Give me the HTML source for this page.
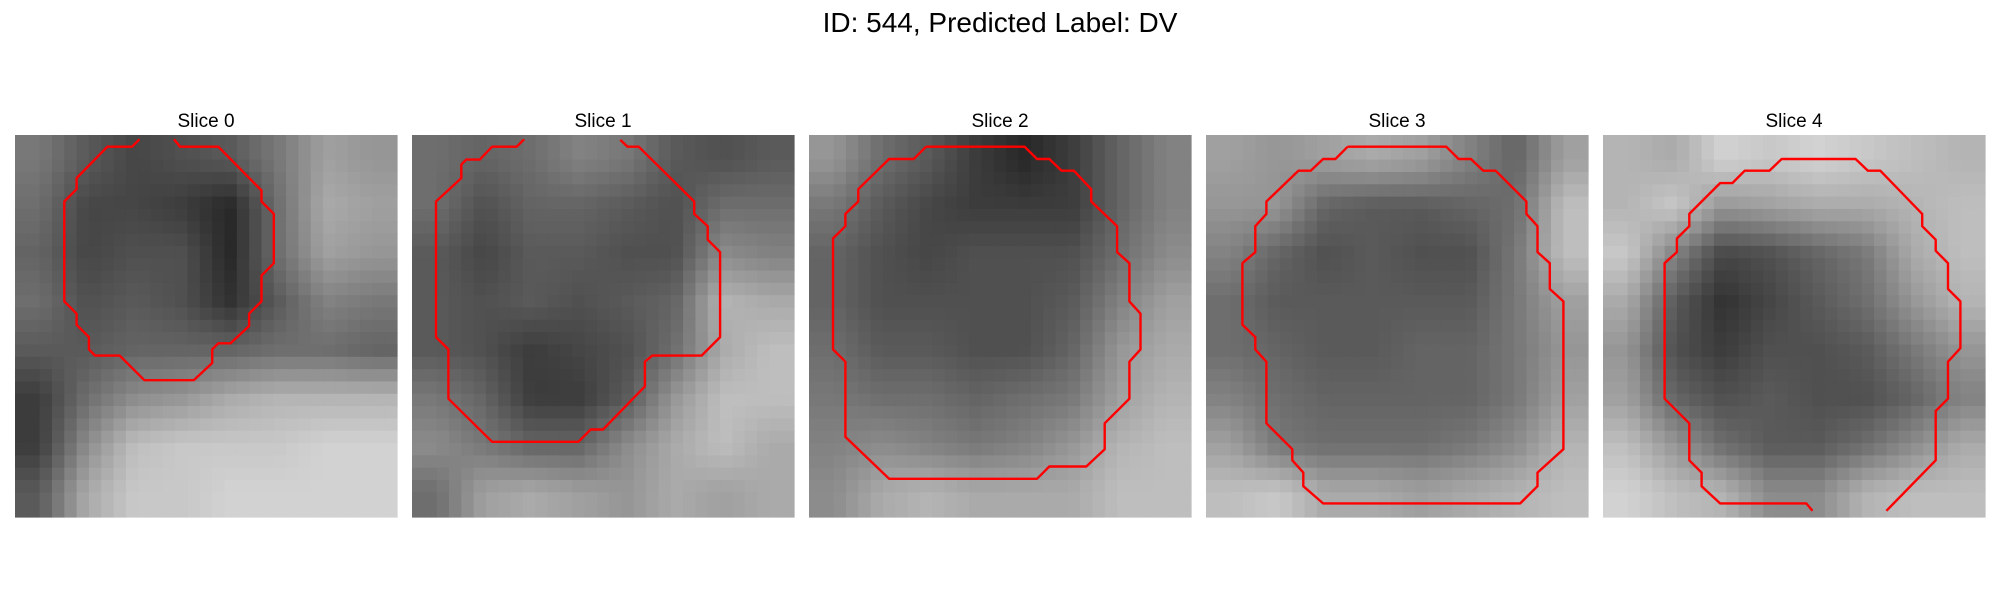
<!DOCTYPE html>
<html><head><meta charset="utf-8"><style>
html,body{margin:0;padding:0;background:#fff;width:2000px;height:600px;overflow:hidden}
svg{display:block}
text{font-family:"Liberation Sans","DejaVu Sans",sans-serif}
</style></head><body>
<svg id="fig" width="2000" height="600" viewBox="0 0 2000 600">
<text x="1000" y="32" font-size="28" text-anchor="middle" fill="#000">ID: 544, Predicted Label: DV</text>
</svg>
<script>
const sliceTitles = ["Slice 0","Slice 1","Slice 2","Slice 3","Slice 4"];
// coarse 8x8 brightness estimates (0-255) per slice
const bright0 = [[120,90,70,80,90,120,160,150],[110,70,70,60,40,110,170,160],[100,70,80,80,40,110,160,150],[110,80,90,80,50,90,130,120],[90,90,100,100,100,110,110,100],[60,110,140,150,170,180,180,180],[60,140,190,200,200,200,210,210],[90,170,200,200,210,210,210,210]];
const bright1 = [[110,100,110,130,120,90,80,90],[110,80,100,100,90,80,110,110],[90,70,90,90,80,80,140,130],[90,80,90,80,90,100,180,170],[90,80,60,70,80,110,170,190],[120,100,60,60,90,150,190,190],[140,120,100,100,140,170,190,170],[110,160,170,160,150,170,160,170]];
const bright2 = [[150,110,90,60,40,60,100,130],[120,90,70,60,60,60,100,130],[100,80,70,80,80,80,110,140],[100,80,80,80,80,90,130,160],[110,90,90,80,80,100,150,170],[120,110,110,100,110,120,160,180],[130,140,130,120,130,150,180,190],[140,170,180,170,170,170,190,190]];
const bright3 = [[160,150,160,170,160,130,100,160],[150,150,100,90,90,100,110,190],[130,100,80,90,80,80,120,190],[110,90,90,90,90,90,120,160],[110,100,90,90,100,100,120,150],[130,110,100,100,100,100,120,160],[160,120,110,110,110,120,140,180],[190,200,170,170,160,170,180,190]];
const bright4 = [[180,170,210,200,210,200,190,180],[180,200,150,160,170,170,180,190],[200,130,70,80,100,120,170,190],[170,90,50,70,90,110,150,180],[150,80,60,80,80,90,120,150],[160,100,80,90,80,80,100,130],[190,150,110,90,90,110,140,170],[210,190,180,140,140,180,190,190]];
// contour vertices in cell units (x,y), grid of 31 cells
const contour0 = [[10.1,0.35],[9.5,0.95],[7.5,0.95],[5,3.5],[5,4.4],[4,5.4],[4,13.5],[5,14.5],[5,15.4],[6,16.4],[6,17.4],[6.5,17.9],[8.5,17.9],[10.5,19.9],[14.5,19.9],[16,18.5],[16,17.4],[16.5,16.9],[17.5,16.9],[19,15.5],[19,14.5],[20,13.5],[20,11.4],[21,10.4],[21,6.4],[20,5.4],[20,4.5],[16.5,0.95],[13.4,0.95],[12.9,0.35]];
const contour1 = [[9.1,0.35],[8.5,0.95],[6.5,0.95],[5.5,2],[4.4,2],[4,2.4],[4,3.5],[1.95,5.4],[1.95,16.4],[2.95,17.4],[2.95,21.4],[6.5,24.9],[13.5,24.9],[14.5,23.9],[15.5,23.9],[18.9,20.4],[18.9,18.4],[19.5,17.9],[23.5,17.9],[25,16.4],[25,9.5],[24,8.5],[24,7.4],[22.9,6.4],[22.9,5.4],[18.4,0.95],[17.5,0.95],[16.9,0.4]];
const contour2 = [[9.5,0.95],[17.5,0.95],[18.5,1.95],[19.5,1.95],[20.5,2.9],[21.5,2.9],[22.9,4.4],[22.9,5.4],[25,7.4],[25,9.5],[26,10.4],[26,13.5],[26.9,14.5],[26.9,17.4],[26,18.4],[26,21.4],[24,23.4],[24,25.5],[22.5,26.9],[19.5,26.9],[18.5,27.9],[6.5,27.9],[2.95,24.5],[2.95,18.4],[1.95,17.4],[1.95,8.4],[2.95,7.4],[2.95,6.4],[4,5.4],[4,4.4],[6.5,1.95],[8.5,1.95],[9.5,0.95]];
const contour3 = [[11.5,0.95],[19.5,0.95],[20.5,1.95],[21.5,1.95],[22.5,2.9],[23.5,2.9],[26,5.4],[26,6.4],[26.9,7.4],[26.9,9.5],[27.9,10.4],[27.9,12.5],[29,13.5],[29,25.5],[26.9,27.4],[26.9,28.5],[25.5,29.9],[9.5,29.9],[7.9,28.5],[7.9,27.4],[7,26.4],[7,25.5],[4.9,23.4],[4.9,18.4],[4,17.4],[4,16.4],[2.95,15.4],[2.95,10.4],[4,9.5],[4,7.4],[4.9,6.4],[4.9,5.4],[7.5,2.9],[8.5,2.9],[9.5,1.95],[10.5,1.95],[11.5,0.95]];
const contour4 = [[17,30.5],[16.5,29.9],[9.5,29.9],[8,28.5],[8,27.4],[7,26.4],[7,23.4],[5,21.4],[5,10.4],[6,9.5],[6,8.4],[7,7.4],[7,6.4],[9.5,3.9],[10.5,3.9],[11.5,2.9],[13.5,2.9],[14.5,1.95],[20.5,1.95],[21.5,2.9],[22.5,2.9],[25.9,6.4],[25.9,7.4],[27,8.5],[27,9.4],[28,10.4],[28,12.5],[29,13.5],[29,17.3],[28,18.4],[28,21.4],[27,22.4],[27,26.4],[23,30.5]];

const brights=[bright0,bright1,bright2,bright3,bright4];
const contours=[contour0,contour1,contour2,contour3,contour4];
const NS="http://www.w3.org/2000/svg";
const svg=document.getElementById('fig');
const N=31, P0X=15, PSTEP=397, PY=135, PW=382, cs=PW/N;
function sample(g,cx,cy){
  const gx=Math.min(7,Math.max(0,(cx+0.5)/N*8-0.5)), gy=Math.min(7,Math.max(0,(cy+0.5)/N*8-0.5));
  const x0=Math.floor(gx),y0=Math.floor(gy),x1=Math.min(7,x0+1),y1=Math.min(7,y0+1),fx=gx-x0,fy=gy-y0;
  return (g[y0][x0]*(1-fx)+g[y0][x1]*fx)*(1-fy)+(g[y1][x0]*(1-fx)+g[y1][x1]*fx)*fy;
}
for(let p=0;p<5;p++){
  const ox=P0X+p*PSTEP;
  const grp=document.createElementNS(NS,'g');
  
  
  svg.appendChild(grp);
  const t=document.createElementNS(NS,'text');
  t.setAttribute('x',ox+PW/2);t.setAttribute('y',127);t.setAttribute('font-size','19');t.setAttribute('text-anchor','middle');
  t.textContent=sliceTitles[p];
  
  
  grp.appendChild(t);
  const img=document.createElementNS(NS,'g');
  
  
  grp.appendChild(img);
  let html='';
  for(let r=0;r<N;r++)for(let c=0;c<N;c++){
    const v=Math.round(Math.max(0,Math.min(255,sample(brights[p],c,r))));
    html+=`<rect x="${(ox+c*cs).toFixed(2)}" y="${(PY+r*cs).toFixed(2)}" width="${(cs+0.6).toFixed(2)}" height="${(cs+0.6).toFixed(2)}" fill="rgb(${v},${v},${v})"/>`;
  }
  img.innerHTML=html;
  const pl=document.createElementNS(NS,'polyline');
  pl.setAttribute('points',contours[p].map(q=>(ox+q[0]*cs).toFixed(1)+','+(PY+q[1]*cs).toFixed(1)).join(' '));
  pl.setAttribute('fill','none');pl.setAttribute('stroke','#ff0000');pl.setAttribute('stroke-width','2.4');pl.setAttribute('stroke-linejoin','round');
  
  
  grp.appendChild(pl);
}
</script>
</body></html>
